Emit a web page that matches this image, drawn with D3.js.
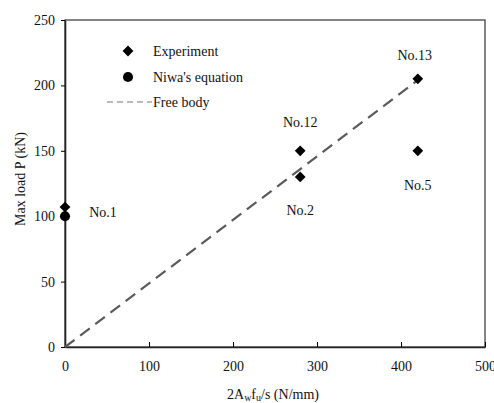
<!DOCTYPE html>
<html>
<head>
<meta charset="utf-8">
<script src="https://cdn.jsdelivr.net/npm/d3@7"></script>
<style>
  body { margin: 0; background: #fff; }
  text { font-family: "Liberation Serif", "Times New Roman", serif; fill: #111; }
</style>
</head>
<body>
<script>
// data
var expX = [0, 280, 280, 420, 420];
var expY = [107, 150, 130, 205, 150];
var niwaX = [0];
var niwaY = [100];
var freeX = [0, 420];
var freeY = [0, 204];
var pointLabels = ["No.1", "No.12", "No.2", "No.13", "No.5"];
var xTicks = [0, 100, 200, 300, 400, 500];
var yTicks = [0, 50, 100, 150, 200, 250];

var w = 494, h = 403,
    padL = 65, padR = 485, padT = 20, padB = 347;   // plot box edges (px)

var svg = d3.select("body").append("svg")
    .attr("width", w)
    .attr("height", h);

var x = d3.scaleLinear().domain([0, 500]).range([padL, padR]);
var y = d3.scaleLinear().domain([0, 250]).range([padB, padT]);

// frame
svg.append("rect")
    .attr("x", padL).attr("y", padT)
    .attr("width", padR - padL).attr("height", padB - padT)
    .attr("fill", "none").attr("stroke", "#333").attr("stroke-width", 1.2);

// x axis, ticks pointing in
var gX = svg.append("g")
    .attr("transform", "translate(0," + padB + ")")
    .call(d3.axisBottom(x).tickValues(xTicks).tickSizeInner(-5).tickSizeOuter(0).tickPadding(14));
gX.select(".domain").attr("stroke", "#222").attr("stroke-width", 1.6);
gX.selectAll("text").attr("font-size", 14);

// y axis, ticks out
var gY = svg.append("g")
    .attr("transform", "translate(" + padL + ",0)")
    .call(d3.axisLeft(y).tickValues(yTicks).tickSizeInner(4).tickSizeOuter(0).tickPadding(6));
gY.select(".domain").attr("stroke", "#222").attr("stroke-width", 1.6);
gY.selectAll("text").attr("font-size", 14);

// axis titles
var xt = svg.append("text")
    .attr("x", 273).attr("y", 399)
    .attr("text-anchor", "middle")
    .attr("font-size", 14);
xt.append("tspan").text("2A");
xt.append("tspan").attr("font-size", 10).attr("dy", 2).text("w");
xt.append("tspan").attr("dy", -2).text("f");
xt.append("tspan").attr("font-size", 10).attr("dy", 2).text("u");
xt.append("tspan").attr("dy", -2).text("/s (N/mm)");

svg.append("text")
    .attr("transform", "translate(25,179) rotate(-90)")
    .attr("text-anchor", "middle")
    .attr("font-size", 14)
    .text("Max load P (kN)");

// free body dashed line
var line = d3.line().x(d => x(d[0])).y(d => y(d[1]));
svg.append("path")
    .datum(freeX.map((v, i) => [v, freeY[i]]))
    .attr("d", line)
    .attr("fill", "none")
    .attr("stroke", "#5a5a5a")
    .attr("stroke-width", 2.2)
    .attr("stroke-dasharray", "12,7");

var diamond = d3.symbol().type(d3.symbolDiamond2).size(74);
var circle = d3.symbol().type(d3.symbolCircle).size(80);

// Niwa's equation
svg.selectAll(".niwa")
    .data(niwaX)
    .enter().append("path")
    .attr("d", circle)
    .attr("fill", "#000")
    .attr("transform", (d, i) => "translate(" + x(d) + "," + y(niwaY[i]) + ")");

// experiment
svg.selectAll(".exp")
    .data(expX)
    .enter().append("path")
    .attr("d", diamond)
    .attr("fill", "#000")
    .attr("transform", (d, i) => "translate(" + x(d) + "," + y(expY[i]) + ")");

// point labels, offsets in px from the point
var labOff = [[38, 10], [0, -24], [0, 38], [-3, -19], [0, 39]];
svg.selectAll(".lab")
    .data(pointLabels)
    .enter().append("text")
    .attr("x", (d, i) => x(expX[i]) + labOff[i][0])
    .attr("y", (d, i) => y(expY[i]) + labOff[i][1])
    .attr("text-anchor", "middle")
    .attr("font-size", 14)
    .text(d => d);

// legend
var lg = svg.append("g");
lg.append("path").attr("d", diamond).attr("fill", "#000").attr("transform", "translate(128,51)");
lg.append("text").attr("x", 153).attr("y", 56).attr("font-size", 14).text("Experiment");
lg.append("path").attr("d", circle).attr("fill", "#000").attr("transform", "translate(128,77)");
lg.append("text").attr("x", 153).attr("y", 82).attr("font-size", 14).text("Niwa's equation");
lg.append("line").attr("x1", 107).attr("x2", 152).attr("y1", 102).attr("y2", 102)
    .attr("stroke", "#777").attr("stroke-width", 1).attr("stroke-dasharray", "6,4");
lg.append("text").attr("x", 153).attr("y", 107).attr("font-size", 14).text("Free body");
</script>
</body>
</html>
